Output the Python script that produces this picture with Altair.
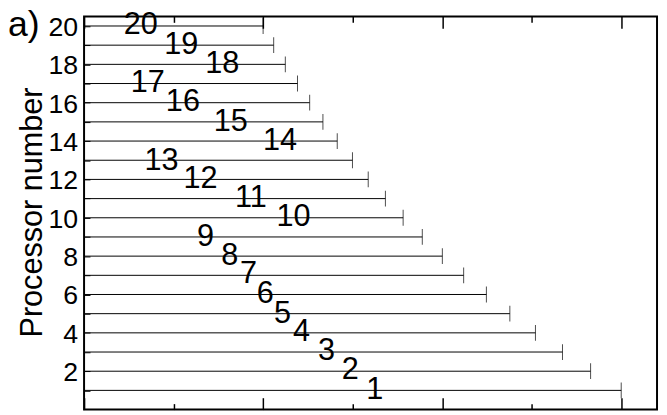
import altair as alt
import pandas as pd

# ---- data ----
processors = list(range(1, 21))
end_times = [3.0, 2.829, 2.672, 2.521, 2.378, 2.247, 2.120, 2.001, 1.889, 1.782,
             1.683, 1.587, 1.499, 1.414, 1.334, 1.260, 1.192, 1.124, 1.059, 1.0]
label_text = [str(p) for p in processors]
label_x = [1.623, 1.487, 1.354, 1.214, 1.109, 1.012, 0.919, 0.814, 0.679, 1.170,
           0.932, 0.651, 0.433, 1.095, 0.819, 0.552, 0.356, 0.772, 0.543, 0.317]
label_y = [1.14, 2.15, 3.13, 4.12, 5.10, 6.14, 7.15, 8.11, 9.09, 10.15,
           11.11, 12.12, 13.08, 14.09, 15.10, 16.14, 17.10, 18.11, 19.12, 20.15]
x_tick_values = [0, 0.5, 1, 1.5, 2, 2.5, 3]
y_label_values = [2, 4, 6, 8, 10, 12, 14, 16, 18, 20]
y_tick_values = list(range(1, 21))
panel_tag = ["a)"]

W, H = 580, 398
FONT = "Liberation Sans"

df = pd.DataFrame({
    "processor": processors,
    "start": [0.0] * len(processors),
    "end": end_times,
})
lab = pd.DataFrame({"label": label_text, "lx": label_x, "ly": label_y})
ylab = pd.DataFrame({"v": y_label_values, "t": [str(v) for v in y_label_values]})
tag = pd.DataFrame({"t": panel_tag})

xscale = alt.Scale(domain=[0, 3.2], nice=False, zero=False)
yscale = alt.Scale(domain=[0, 20.5], nice=False, zero=False)

tick_cond = {"condition": {"test": "datum.value % 1 === 0", "value": 12}, "value": 6}

rules = alt.Chart(df).mark_rule(color="black", strokeWidth=1).encode(
    x=alt.X("start:Q", scale=xscale,
            axis=alt.Axis(orient="bottom", offset=-H, values=x_tick_values,
                          tickSize=tick_cond, tickColor="black", tickWidth=1.5,
                          labels=False, domain=False, grid=False, title=None)),
    x2="end:Q",
    y=alt.Y("processor:Q", scale=yscale,
            axis=alt.Axis(orient="left", values=y_label_values, ticks=False,
                          domain=False, grid=False, labels=False,
                          title="Processor number", titleFont=FONT,
                          titleFontSize=31, titleFontWeight="normal",
                          titleColor="black", titleX=-43, titleY=198,
                          titleAngle=270, titleAlign="center",
                          titleBaseline="alphabetic")),
)

caps = alt.Chart(df).mark_tick(orient="vertical", size=16, thickness=1,
                               color="black").encode(
    x=alt.X("end:Q", scale=xscale,
            axis=alt.Axis(orient="top", offset=-H, values=x_tick_values,
                          tickSize=tick_cond, tickColor="black", tickWidth=1.5,
                          labels=False, domain=False, grid=False, title=None)),
    y=alt.Y("processor:Q", scale=yscale,
            axis=alt.Axis(orient="right", offset=-W, values=y_tick_values,
                          tickSize=6, tickColor="black", tickWidth=1,
                          labels=False, domain=False, grid=False, title=None)),
)

# y tick labels (drawn through the y scale)
ytext = alt.Chart(ylab).mark_text(fontSize=27, font=FONT, align="right",
                                  baseline="middle", dy=2, color="black").encode(
    x=alt.value(-6),
    y=alt.Y("v:Q", scale=yscale, axis=None),
    text="t:N",
)

labels = alt.Chart(lab).mark_text(fontSize=31, font=FONT, align="center",
                                  baseline="middle", dy=2, color="black").encode(
    x=alt.X("lx:Q", scale=xscale, axis=None),
    y=alt.Y("ly:Q", scale=yscale, axis=None),
    text="label:N",
)

tag_text = alt.Chart(tag).mark_text(fontSize=36, font=FONT, align="left",
                                    baseline="alphabetic", color="black").encode(
    x=alt.value(-77),
    y=alt.value(20),
    text="t:N",
)

chart = alt.layer(rules, caps, ytext, labels, tag_text).resolve_axis(
    x="independent", y="independent"
).properties(
    width=W, height=H,
    autosize=alt.AutoSizeParams(type="none"),
    padding={"left": 77, "top": 6, "right": 2, "bottom": 3},
).configure_view(
    stroke="black", strokeWidth=2
)

chart.save("out.html", embed_options={"renderer": "svg", "actions": False})
